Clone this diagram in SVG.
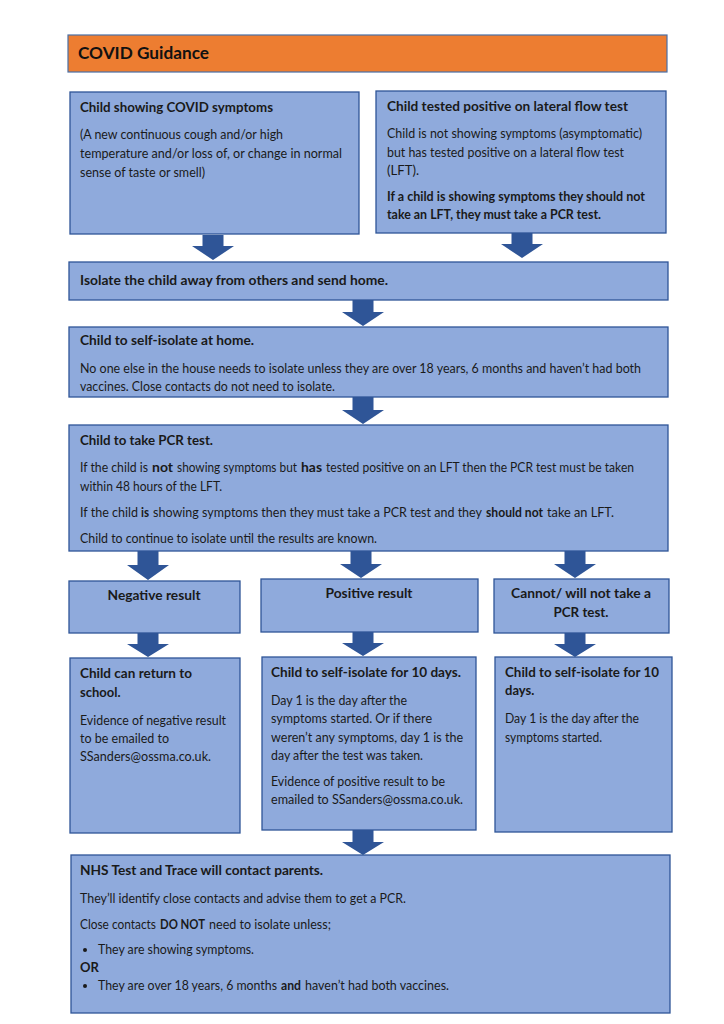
<svg xmlns="http://www.w3.org/2000/svg" width="724" height="1024" viewBox="0 0 724 1024">
<style>
text{font-family:Lato,"Liberation Sans",sans-serif;font-size:13px;fill:#1a1a1a}
.b{font-weight:bold}
.h{font-weight:bold;font-size:17px;fill:#111}
.box{fill:#8FAADC;stroke:#2F5597;stroke-width:1.3}
.hdr{fill:#ED7D31;stroke:#4A6FA5;stroke-width:1.2}
.arr{fill:#2F5597}
</style>
<rect width="724" height="1024" fill="#ffffff"/>
<g id="header">
<rect class="hdr" x="68" y="35" width="599" height="37"/>
<text class="h" x="78" y="59" textLength="131" lengthAdjust="spacingAndGlyphs">COVID Guidance</text>
</g>
<g id="symptoms">
<rect class="box" x="70" y="92" width="289" height="142"/>
<text class="b" x="80" y="112" textLength="193" lengthAdjust="spacingAndGlyphs">Child showing COVID symptoms</text>
<text x="80" y="139" textLength="203" lengthAdjust="spacingAndGlyphs">(A new continuous cough and/or high</text>
<text x="80" y="158" textLength="262" lengthAdjust="spacingAndGlyphs">temperature and/or loss of, or change in normal</text>
<text x="80" y="177" textLength="125" lengthAdjust="spacingAndGlyphs">sense of taste or smell)</text>
</g>
<g id="lft">
<rect class="box" x="376" y="91" width="290" height="142"/>
<text class="b" x="387" y="111" textLength="241" lengthAdjust="spacingAndGlyphs">Child tested positive on lateral flow test</text>
<text x="387" y="138" textLength="255" lengthAdjust="spacingAndGlyphs">Child is not showing symptoms (asymptomatic)</text>
<text x="387" y="157" textLength="237" lengthAdjust="spacingAndGlyphs">but has tested positive on a lateral flow test</text>
<text x="387" y="175" textLength="32" lengthAdjust="spacingAndGlyphs">(LFT).</text>
<text class="b" x="387" y="201" textLength="258" lengthAdjust="spacingAndGlyphs">If a child is showing symptoms they should not</text>
<text class="b" x="387" y="219" textLength="214" lengthAdjust="spacingAndGlyphs">take an LFT, they must take a PCR test.</text>
</g>
<g id="isolate">
<rect class="box" x="69" y="262" width="599" height="38"/>
<text class="b" x="80" y="285" textLength="308" lengthAdjust="spacingAndGlyphs">Isolate the child away from others and send home.</text>
</g>
<g id="home">
<rect class="box" x="69" y="327" width="599" height="70"/>
<text class="b" x="80" y="345" textLength="174" lengthAdjust="spacingAndGlyphs">Child to self-isolate at home.</text>
<text x="80" y="373" textLength="561" lengthAdjust="spacingAndGlyphs">No one else in the house needs to isolate unless they are over 18 years, 6 months and haven’t had both</text>
<text x="80" y="391" textLength="255" lengthAdjust="spacingAndGlyphs">vaccines. Close contacts do not need to isolate.</text>
</g>
<g id="pcr">
<rect class="box" x="69" y="425" width="599" height="126"/>
<text class="b" x="80" y="445" textLength="133" lengthAdjust="spacingAndGlyphs">Child to take PCR test.</text>
<text x="80" y="472" textLength="68" lengthAdjust="spacingAndGlyphs">If the child is</text>
<text class="b" x="152" y="472" textLength="21" lengthAdjust="spacingAndGlyphs">not</text>
<text x="177" y="472" textLength="120" lengthAdjust="spacingAndGlyphs">showing symptoms but</text>
<text class="b" x="301" y="472" textLength="21" lengthAdjust="spacingAndGlyphs">has</text>
<text x="326" y="472" textLength="308" lengthAdjust="spacingAndGlyphs">tested positive on an LFT then the PCR test must be taken</text>
<text x="80" y="491" textLength="142" lengthAdjust="spacingAndGlyphs">within 48 hours of the LFT.</text>
<text x="80" y="517" textLength="58" lengthAdjust="spacingAndGlyphs">If the child</text>
<text class="b" x="141" y="517" textLength="8" lengthAdjust="spacingAndGlyphs">is</text>
<text x="153" y="517" textLength="329" lengthAdjust="spacingAndGlyphs">showing symptoms then they must take a PCR test and they</text>
<text class="b" x="486" y="517" textLength="57" lengthAdjust="spacingAndGlyphs">should not</text>
<text x="547" y="517" textLength="67" lengthAdjust="spacingAndGlyphs">take an LFT.</text>
<text x="80" y="543" textLength="297" lengthAdjust="spacingAndGlyphs">Child to continue to isolate until the results are known.</text>
</g>
<g id="negative">
<rect class="box" x="69" y="581" width="171" height="52"/>
<text class="b" x="154" y="600" text-anchor="middle" textLength="93" lengthAdjust="spacingAndGlyphs">Negative result</text>
</g>
<g id="positive">
<rect class="box" x="261" y="579" width="217" height="53"/>
<text class="b" x="369" y="598" text-anchor="middle" textLength="87" lengthAdjust="spacingAndGlyphs">Positive result</text>
</g>
<g id="cannot">
<rect class="box" x="494" y="579" width="175" height="54"/>
<text class="b" x="581" y="598" text-anchor="middle" textLength="140" lengthAdjust="spacingAndGlyphs">Cannot/ will not take a</text>
<text class="b" x="581" y="617" text-anchor="middle" textLength="55" lengthAdjust="spacingAndGlyphs">PCR test.</text>
</g>
<g id="return">
<rect class="box" x="70" y="658" width="170" height="175"/>
<text class="b" x="80" y="678" textLength="112" lengthAdjust="spacingAndGlyphs">Child can return to</text>
<text class="b" x="80" y="697">school.</text>
<text x="80" y="725" textLength="146" lengthAdjust="spacingAndGlyphs">Evidence of negative result</text>
<text x="80" y="743" textLength="89" lengthAdjust="spacingAndGlyphs">to be emailed to</text>
<text x="80" y="761" textLength="131" lengthAdjust="spacingAndGlyphs">SSanders@ossma.co.uk.</text>
</g>
<g id="iso10">
<rect class="box" x="262" y="657" width="214" height="173"/>
<text class="b" x="271" y="677" textLength="190" lengthAdjust="spacingAndGlyphs">Child to self-isolate for 10 days.</text>
<text x="271" y="705" textLength="136" lengthAdjust="spacingAndGlyphs">Day 1 is the day after the</text>
<text x="271" y="723" textLength="161" lengthAdjust="spacingAndGlyphs">symptoms started. Or if there</text>
<text x="271" y="742" textLength="192" lengthAdjust="spacingAndGlyphs">weren’t any symptoms, day 1 is the</text>
<text x="271" y="760" textLength="152" lengthAdjust="spacingAndGlyphs">day after the test was taken.</text>
<text x="271" y="786" textLength="174" lengthAdjust="spacingAndGlyphs">Evidence of positive result to be</text>
<text x="271" y="804" textLength="192" lengthAdjust="spacingAndGlyphs">emailed to SSanders@ossma.co.uk.</text>
</g>
<g id="iso10b">
<rect class="box" x="495" y="657" width="177" height="175"/>
<text class="b" x="505" y="677" textLength="154" lengthAdjust="spacingAndGlyphs">Child to self-isolate for 10</text>
<text class="b" x="505" y="695">days.</text>
<text x="505" y="723" textLength="134" lengthAdjust="spacingAndGlyphs">Day 1 is the day after the</text>
<text x="505" y="742" textLength="97" lengthAdjust="spacingAndGlyphs">symptoms started.</text>
</g>
<g id="nhs">
<rect class="box" x="71" y="855" width="599" height="158"/>
<text class="b" x="80" y="875" textLength="243" lengthAdjust="spacingAndGlyphs">NHS Test and Trace will contact parents.</text>
<text x="80" y="903" textLength="326" lengthAdjust="spacingAndGlyphs">They’ll identify close contacts and advise them to get a PCR.</text>
<text x="80" y="929" textLength="76" lengthAdjust="spacingAndGlyphs">Close contacts</text>
<text class="b" x="160" y="929" textLength="45" lengthAdjust="spacingAndGlyphs">DO NOT</text>
<text x="209" y="929" textLength="122" lengthAdjust="spacingAndGlyphs">need to isolate unless;</text>
<circle cx="85" cy="950" r="2" fill="#1a1a1a"/>
<text x="98" y="954" textLength="156" lengthAdjust="spacingAndGlyphs">They are showing symptoms.</text>
<text class="b" x="80" y="972">OR</text>
<circle cx="85" cy="986" r="2" fill="#1a1a1a"/>
<text x="98" y="990" textLength="179" lengthAdjust="spacingAndGlyphs">They are over 18 years, 6 months</text>
<text class="b" x="281" y="990" textLength="20" lengthAdjust="spacingAndGlyphs">and</text>
<text x="305" y="990" textLength="144" lengthAdjust="spacingAndGlyphs">haven’t had both vaccines.</text>
</g>
<g id="connectors">
<path class="arr" d="M202.5,235 h21 v11 h10.5 L213,260 L192,246 h10.5 z"/>
<path class="arr" d="M511.5,233 h21 v11 h10.5 L522,258 L501,244 h10.5 z"/>
<path class="arr" d="M352.5,300 h21 v12 h10.5 L363,326 L342,312 h10.5 z"/>
<path class="arr" d="M352.5,397 h21 v13 h10.5 L363,424 L342,410 h10.5 z"/>
<path class="arr" d="M137.5,551 h21 v14 h10.5 L148,580 L127,565 h10.5 z"/>
<path class="arr" d="M350.5,551 h21 v13 h10.5 L361,578 L340,564 h10.5 z"/>
<path class="arr" d="M564.5,551 h21 v13 h10.5 L575,578 L554,564 h10.5 z"/>
<path class="arr" d="M137.5,633 h21 v11 h10.5 L148,657 L127,644 h10.5 z"/>
<path class="arr" d="M352.5,632 h21 v11 h10.5 L363,656 L342,643 h10.5 z"/>
<path class="arr" d="M564.5,633 h21 v11 h10.5 L575,657 L554,644 h10.5 z"/>
<path class="arr" d="M352.5,830 h21 v12 h10.5 L363,855 L342,842 h10.5 z"/>
</g>
</svg>
